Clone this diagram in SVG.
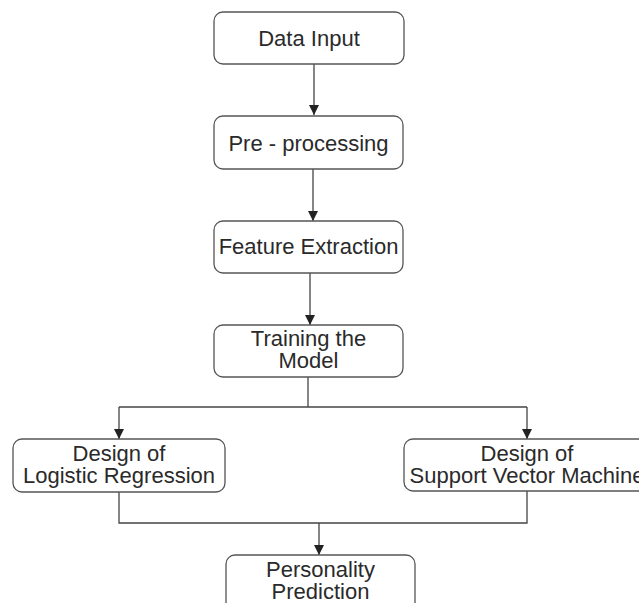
<svg xmlns="http://www.w3.org/2000/svg" width="639" height="603" viewBox="0 0 639 603">
<defs>
<marker id="ah" markerWidth="12" markerHeight="12" refX="10" refY="5" orient="auto" markerUnits="userSpaceOnUse">
<path d="M0,0 L10,5 L0,10 Z" fill="#222"/>
</marker>
<style>
.box{fill:#fff;stroke:#555;stroke-width:1.3}
.t{font-family:"Liberation Sans",Arial,sans-serif;font-size:22px;fill:#2a2a2a;text-anchor:middle}
.c{fill:none;stroke:#444;stroke-width:1.3}
</style>
</defs>
<rect width="639" height="603" fill="#fff"/>
<g id="connectors">
<path class="c" d="M314,64 V115" marker-end="url(#ah)"/>
<path class="c" d="M313,169 V221" marker-end="url(#ah)"/>
<path class="c" d="M310,273 V325" marker-end="url(#ah)"/>
<path class="c" d="M308,377 V407"/>
<path class="c" d="M119,407 H527"/>
<path class="c" d="M119,407 V439" marker-end="url(#ah)"/>
<path class="c" d="M527,407 V439" marker-end="url(#ah)"/>
<path class="c" d="M119,492 V523 H527 V491"/>
<path class="c" d="M319,523 V555" marker-end="url(#ah)"/>
</g>
<g id="data-input">
<rect class="box" x="214" y="12" width="190" height="52" rx="9"/>
<text class="t" x="309" y="46">Data Input</text>
</g>
<g id="pre-processing">
<rect class="box" x="214" y="116" width="189" height="53" rx="9"/>
<text class="t" x="308.5" y="151">Pre - processing</text>
</g>
<g id="feature-extraction">
<rect class="box" x="214" y="221" width="189" height="52" rx="9"/>
<text class="t" x="308.5" y="254">Feature Extraction</text>
</g>
<g id="training">
<rect class="box" x="214" y="325" width="189" height="52" rx="9"/>
<text class="t" x="308.5" y="346">Training the</text>
<text class="t" x="308.5" y="368">Model</text>
</g>
<g id="logistic-regression">
<rect class="box" x="13" y="439" width="212" height="53" rx="9"/>
<text class="t" x="119" y="461">Design of</text>
<text class="t" x="119" y="483">Logistic Regression</text>
</g>
<g id="svm">
<rect class="box" x="404" y="439" width="250" height="52" rx="9"/>
<text class="t" x="527" y="461">Design of</text>
<text class="t" x="527" y="483">Support Vector Machine</text>
</g>
<g id="personality-prediction">
<rect class="box" x="226" y="555" width="189" height="60" rx="9"/>
<text class="t" x="320.5" y="577">Personality</text>
<text class="t" x="320.5" y="599">Prediction</text>
</g>
</svg>
